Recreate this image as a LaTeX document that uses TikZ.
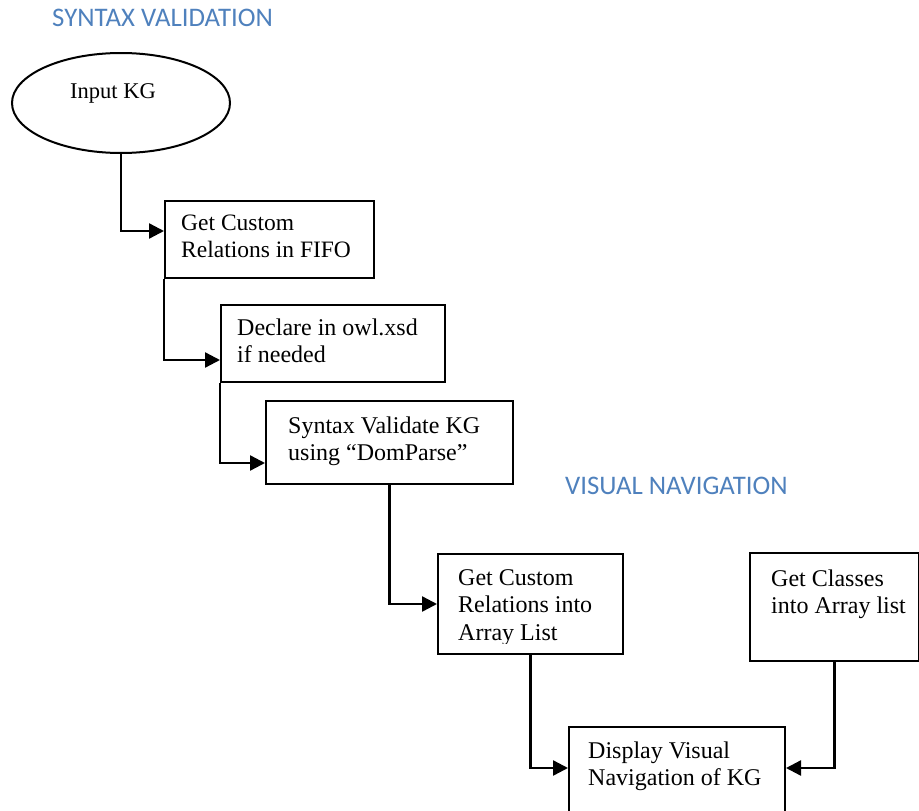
\documentclass[tikz,border=0pt]{standalone}
\usepackage{fontspec}
\setmainfont{Liberation Serif}
\newfontfamily\headfont{Carlito}
\usetikzlibrary{arrows.meta,calc,shapes.geometric}
\definecolor{headblue}{HTML}{4F81BD}
% strut that fixes the top of a text block 24pt above its first baseline
\newcommand\firstline{\rule{0pt}{24pt}}

\begin{document}
\begin{tikzpicture}[x=1pt,y=-1pt,
  stepbox/.style={draw, line width=2pt, rectangle, inner sep=0pt, anchor=north west},
  startshape/.style={draw, ellipse, line width=2pt, inner sep=0pt},
  txt/.style={anchor=north west, inner sep=0pt, align=left, font=\fontsize{24}{27.5}\selectfont},
  head/.style={anchor=base west, inner sep=0pt, text=headblue, font=\headfont\fontsize{26.8}{30}\selectfont},
  flow/.style={line width=2.4pt, -{Triangle[length=15pt,width=15pt]}},
]
\clip (0,0) rectangle (919,811);

% section headings
\node[head] (hsyn) at (52,27) {SYNTAX VALIDATION};
\node[head] (hvis) at (565,494) {VISUAL NAVIGATION};

% start ellipse
\node[startshape, minimum width=218pt, minimum height=100pt] (inkg) at (121,103) {};
\node[anchor=base west, inner sep=0pt, font=\fontsize{22.5}{26}\selectfont] (inkgtext) at (70,98) {Input KG};

% boxes
\node[stepbox, minimum width=209pt, minimum height=77pt]  (b1) at (164,200) {};
\node[stepbox, minimum width=224pt, minimum height=77pt]  (b2) at (220,304) {};
\node[stepbox, minimum width=247pt, minimum height=83pt]  (b3) at (265,400) {};
\node[stepbox, minimum width=185pt, minimum height=100pt] (b4) at (437,553) {};
\node[stepbox, minimum width=169pt, minimum height=108pt] (b5) at (749,552) {};
\node[stepbox, minimum width=216pt, minimum height=104pt] (b6) at (568,726) {};

% box texts
\node[txt, font=\fontsize{23.5}{27}\selectfont] (t1) at (181,206) {\firstline Get Custom\\Relations in FIFO};
\node[txt] (t2) at (237,311) {\firstline Declare in owl.xsd\\if needed};
\node[txt] (t3) at (288,409) {\firstline Syntax Validate KG\\using “DomParse”};
\begin{scope}
  \clip (437,553) rectangle (622,643);
  \node[txt] (t4) at (458,561) {\firstline Get Custom\\Relations into\\Array List};
\end{scope}
\node[txt] (t5) at (771,562) {\firstline Get Classes\\into Array list};
\node[txt] (t6) at (588,734) {\firstline Display Visual\\Navigation of KG};

% connectors
\draw[flow] (inkg.south) |- ($(b1.west)+(0,-8.5)$);
\draw[flow] (b1.south west) |- ($(b2.west)+(0,16.5)$);
\draw[flow] (b2.south west) |- ($(b3.west)+(0,20.5)$);
\draw[flow] (b3.south) |- (b4.west);
\draw[flow] (b4.south) |- ($(b6.west)+(0,-11)$);
\draw[flow] (b5.south) |- ($(b6.east)+(0,-11)$);
\end{tikzpicture}
\end{document}
